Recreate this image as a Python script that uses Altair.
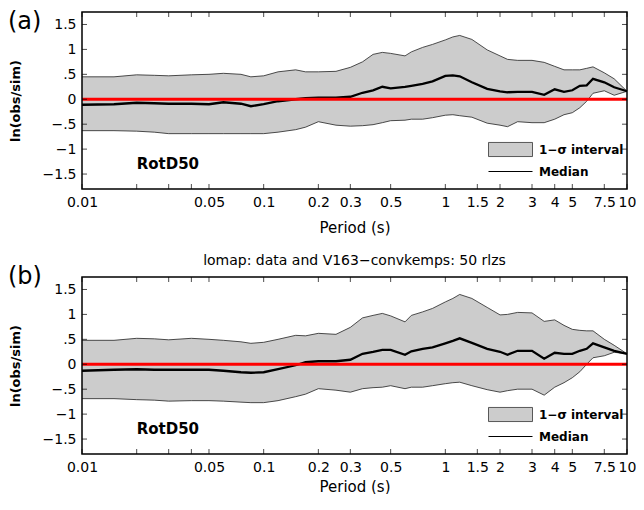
import altair as alt
import pandas as pd

# ---------------- data ----------------
periods = [0.01, 0.015, 0.02, 0.025, 0.03, 0.04, 0.05, 0.06, 0.075, 0.085,
           0.1, 0.12, 0.15, 0.17, 0.2, 0.25, 0.3, 0.35, 0.4, 0.45,
           0.5, 0.6, 0.65, 0.75, 0.85, 1.0, 1.1, 1.2, 1.4, 1.7,
           2.0, 2.2, 2.5, 3.0, 3.5, 4.0, 4.5, 5.0, 5.5, 6.0,
           6.5, 7.5, 8.5, 10.0]

a_median = [-0.11, -0.10, -0.07, -0.08, -0.09, -0.09, -0.10, -0.06, -0.09, -0.14,
            -0.10, -0.04, 0.00, 0.02, 0.03, 0.03, 0.05, 0.13, 0.18, 0.25,
            0.22, 0.25, 0.27, 0.31, 0.36, 0.47, 0.48, 0.46, 0.34, 0.21,
            0.16, 0.14, 0.15, 0.15, 0.09, 0.20, 0.15, 0.18, 0.27, 0.28,
            0.41, 0.34, 0.24, 0.16]
a_lower = [-0.63, -0.63, -0.64, -0.66, -0.69, -0.69, -0.69, -0.69, -0.69, -0.69,
           -0.69, -0.66, -0.61, -0.56, -0.45, -0.52, -0.54, -0.53, -0.51, -0.47,
           -0.43, -0.42, -0.40, -0.40, -0.37, -0.32, -0.31, -0.33, -0.36, -0.48,
           -0.52, -0.55, -0.45, -0.47, -0.47, -0.40, -0.31, -0.27, -0.17, -0.04,
           0.12, 0.17, 0.08, 0.16]
a_upper = [0.45, 0.45, 0.49, 0.48, 0.47, 0.49, 0.50, 0.52, 0.50, 0.45,
           0.47, 0.55, 0.59, 0.55, 0.55, 0.56, 0.64, 0.75, 0.90, 0.94,
           0.92, 0.87, 0.95, 1.04, 1.10, 1.19, 1.25, 1.28, 1.20, 0.99,
           0.87, 0.80, 0.78, 0.78, 0.74, 0.66, 0.59, 0.59, 0.59, 0.62,
           0.65, 0.53, 0.41, 0.16]

b_median = [-0.13, -0.11, -0.10, -0.11, -0.11, -0.11, -0.11, -0.13, -0.16, -0.17,
            -0.16, -0.10, -0.02, 0.04, 0.06, 0.06, 0.09, 0.21, 0.25, 0.29,
            0.29, 0.19, 0.26, 0.31, 0.34, 0.42, 0.47, 0.52, 0.43, 0.31,
            0.25, 0.19, 0.27, 0.27, 0.11, 0.23, 0.21, 0.21, 0.27, 0.31,
            0.42, 0.34, 0.27, 0.21]
b_lower = [-0.69, -0.69, -0.71, -0.72, -0.74, -0.73, -0.73, -0.74, -0.76, -0.77,
           -0.77, -0.73, -0.65, -0.60, -0.49, -0.52, -0.56, -0.49, -0.47, -0.46,
           -0.43, -0.49, -0.46, -0.46, -0.43, -0.39, -0.37, -0.36, -0.43, -0.51,
           -0.56, -0.53, -0.50, -0.50, -0.62, -0.46, -0.37, -0.27, -0.15, 0.00,
           0.13, 0.17, 0.24, 0.21]
b_upper = [0.48, 0.48, 0.52, 0.51, 0.49, 0.52, 0.50, 0.48, 0.45, 0.42,
           0.44, 0.50, 0.58, 0.57, 0.62, 0.60, 0.74, 0.93, 0.98, 1.02,
           0.97, 0.85, 0.98, 1.05, 1.12, 1.25, 1.32, 1.40, 1.32, 1.14,
           0.99, 1.00, 1.04, 1.03, 0.86, 0.89, 0.78, 0.70, 0.68, 0.67,
           0.67, 0.50, 0.38, 0.21]

x_ticks = [0.01, 0.02, 0.03, 0.04, 0.05, 0.1, 0.2, 0.3, 0.5, 1, 1.5, 2, 3, 4, 5, 7.5, 10]
x_tick_labels = ["0.01", "", "", "", "0.05", "0.1", "0.2", "0.3", "0.5", "1", "1.5",
                 "2", "3", "4", "5", "7.5", "10"]
y_ticks = [-1.5, -1, -0.5, 0, 0.5, 1, 1.5]
y_tick_labels = ["\u22121.5", "\u22121", "\u2212.5", "0", ".5", "1", "1.5"]

band_label = "1\u2212\u03c3 interval"
median_label = "Median"
panel_labels = ["(a)", "(b)"]
panel_title_b = "lomap: data and V163\u2212convkemps: 50 rlzs"
annotation = "RotD50"
annot_pos = (0.02, -1.3)

FONT = "DejaVu Sans"
W, H = 545, 177

def make_expr(vals, labs):
    parts = [f"datum.value == {v} ? '{l}'" for v, l in zip(vals, labs)]
    return " : ".join(parts) + " : ''"

xscale = alt.Scale(type="log", domain=[0.01, 10], nice=False)
yscale = alt.Scale(domain=[-1.8, 1.75], nice=False, zero=False)

def make_xaxis(title_pad):
    return alt.Axis(values=x_ticks, labelExpr=make_expr(x_ticks, x_tick_labels),
                    ticks=False, tickSize=0, domain=False, grid=False,
                    labelOverlap=False, labelFlush=False, labelPadding=6,
                    labelFontSize=14, title="Period (s)", titleFontSize=15,
                    titleFontWeight="normal", titlePadding=title_pad)

yaxis = alt.Axis(values=y_ticks, labelExpr=make_expr(y_ticks, y_tick_labels),
                 ticks=False, tickSize=0, domain=False, grid=False,
                 labelOverlap=False, labelFlush=False, labelPadding=6,
                 labelFontSize=14, title="ln(obs/sim)", titleFontSize=13,
                 titleFontWeight="bold", titleAngle=270, titleX=-60, titleY=H / 2,
                 titleAlign="center", titleBaseline="bottom")


def Y(field):
    return alt.Y(f"{field}:Q", scale=yscale, axis=yaxis)


def panel(med, lo, hi, plabel, plabel_y, title_pad, title=None):
    xaxis = make_xaxis(title_pad)

    def X(field):
        return alt.X(f"{field}:Q", scale=xscale, axis=xaxis)

    df = pd.DataFrame({"T": periods, "median": med, "lower": lo, "upper": hi,
                       "band": band_label, "series": median_label})
    base = alt.Chart(df)
    band = base.mark_area(opacity=1).encode(
        x=X("T"), y=Y("lower"), y2="upper:Q",
        fill=alt.Fill("band:N", scale=alt.Scale(domain=[band_label], range=["#cccccc"]),
                      legend=alt.Legend(orient="none", legendX=406, legendY=115, title=None,
                                        symbolType="M-1,-0.32H1V0.32H-1Z", symbolSize=1936,
                                        symbolStrokeColor="#333333", symbolStrokeWidth=0.8,
                                        labelFont=FONT, labelFontSize=12, labelFontWeight="bold",
                                        labelColor="black", labelOffset=6, padding=0)))
    lo_line = base.mark_line(color="#222222", strokeWidth=0.8).encode(x=X("T"), y=Y("lower"))
    hi_line = base.mark_line(color="#222222", strokeWidth=0.8).encode(x=X("T"), y=Y("upper"))
    med_line = base.mark_line(strokeWidth=2.3).encode(
        x=X("T"), y=Y("median"),
        stroke=alt.Stroke("series:N", scale=alt.Scale(domain=[median_label], range=["black"]),
                          legend=alt.Legend(orient="none", legendX=406, legendY=137, title=None,
                                            symbolType="stroke", symbolSize=1936,
                                            symbolStrokeWidth=1,
                                            labelFont=FONT, labelFontSize=12, labelFontWeight="bold",
                                            labelColor="black", labelOffset=6, padding=0)))
    zero = alt.Chart(pd.DataFrame({"z": [0.0]})).mark_rule(color="#ff0000", strokeWidth=3).encode(
        y=Y("z"))

    xt = alt.Chart(pd.DataFrame({"T": x_ticks}))
    top_ticks = xt.mark_tick(color="black", thickness=1, size=5, orient="vertical").encode(
        x=X("T"), y=alt.value(2.5))
    bot_ticks = xt.mark_tick(color="black", thickness=1, size=5, orient="vertical").encode(
        x=X("T"), y=alt.value(H - 2.5))
    yt = alt.Chart(pd.DataFrame({"v": y_ticks}))
    left_ticks = yt.mark_tick(color="black", thickness=1, size=5, orient="horizontal").encode(
        y=Y("v"), x=alt.value(2.5))
    right_ticks = yt.mark_tick(color="black", thickness=1, size=5, orient="horizontal").encode(
        y=Y("v"), x=alt.value(W - 2.5))

    frame = alt.Chart(pd.DataFrame({"f": [0]})).mark_rect(
        fill=None, fillOpacity=0, stroke="black", strokeWidth=1.5
    ).encode(x=alt.value(0), x2=alt.value(W), y=alt.value(0), y2=alt.value(H))

    ann = alt.Chart(pd.DataFrame({"T": [annot_pos[0]], "v": [annot_pos[1]], "t": [annotation]})).mark_text(
        align="left", baseline="middle", font=FONT, fontSize=15, fontWeight="bold", color="black"
    ).encode(x=X("T"), y=Y("v"), text="t:N")

    lab = alt.Chart(pd.DataFrame({"t": [plabel]})).mark_text(
        align="left", baseline="middle", font=FONT, fontSize=24, color="black"
    ).encode(x=alt.value(-74), y=alt.value(plabel_y), text="t:N")

    layer = alt.layer(band, lo_line, hi_line, med_line, zero, top_ticks, bot_ticks,
                      left_ticks, right_ticks, frame, ann, lab)
    props = dict(width=W, height=H)
    if title:
        props["title"] = alt.Title(title, font=FONT, fontSize=14, fontWeight="normal",
                                   color="black", offset=-3, anchor="middle", frame="group")
    return layer.properties(**props)


pa = panel(a_median, a_lower, a_upper, panel_labels[0], 10, 11)
pb = panel(b_median, b_lower, b_upper, panel_labels[1], 0, 5, panel_title_b)

chart = alt.vconcat(pa, pb, spacing=19).resolve_scale(
    fill="independent", stroke="independent"
).resolve_legend(fill="independent", stroke="independent").properties(
    padding={"left": 0, "top": 2, "right": 0, "bottom": 0}
).configure(font=FONT).configure_view(stroke=None).configure_axis(
    labelFont=FONT, titleFont=FONT, labelColor="black", titleColor="black"
)

chart.save("out.html", embed_options={"renderer": "svg", "actions": False})
